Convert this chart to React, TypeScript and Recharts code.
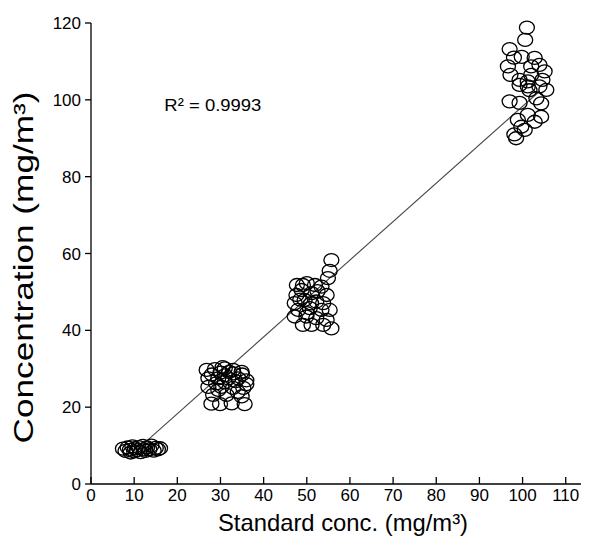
import React from "react";
import { ScatterChart, Scatter, XAxis, YAxis, ReferenceDot } from "recharts";

const FONT = '"Liberation Sans", Arial, sans-serif';

const cluster10 = [
  [7.4, 9.2], [8, 8.6], [8.5, 9.5], [9, 8.9], [9.2, 8.2], [9.6, 9.8], [10, 8.5], [10.2, 9.3],
  [10.6, 8.8], [11, 9.6], [11.5, 8.3], [12, 9.9], [12.2, 9.0], [12.6, 8.6], [13, 9.5], [13.5, 9.0],
  [14, 10.0], [14.5, 8.7], [15, 9.4], [15.5, 9.0], [16, 9.3],
];

const cluster30 = [
  [26.8, 29.7], [28.7, 29.9], [31.0, 30.1], [32.9, 29.7], [34.9, 29.2], [27.2, 27.5], [29.5, 27.5],
  [31.8, 27.5], [34.1, 27.5], [36.0, 27.0], [27.2, 25.3], [30.2, 25.3], [32.9, 25.0], [35.3, 25.0],
  [28.3, 23.2], [31.4, 23.2], [34.9, 22.8], [27.9, 20.9], [29.9, 20.8], [32.6, 21.0], [35.6, 20.8],
  [28, 28.5], [30, 29], [31, 28.3], [33, 28.8], [29, 26.2], [31, 26.5], [33.5, 26.8], [35, 28.5],
  [30.5, 30.4], [32, 29.2], [29.5, 24.5], [34, 24], [36, 26],
];

const cluster50 = [
  [55.7, 58.3], [55.3, 55.5], [54.9, 53.6], [49.1, 51.8], [51.9, 51.8], [53.4, 51.4], [47.6, 49.2],
  [51.1, 49.7], [54.6, 49.2], [47.2, 47.1], [49.5, 47.9], [52.2, 47.5], [53.8, 47.1], [48.0, 45.3],
  [50.7, 45.8], [53.4, 45.3], [55.3, 45.3], [47.2, 43.6], [49.9, 43.6], [52.2, 43.2], [54.6, 42.7],
  [51.1, 41.4], [55.7, 40.5], [49.1, 41.4], [53.8, 41.4], [48.8, 50.5], [47.7, 51.8], [50, 52.3],
  [52.5, 50.2], [48.5, 48], [51, 47], [50, 44.5],
];

const cluster100 = [
  [101.0, 118.8], [100.6, 115.6], [97.0, 113.2], [98.0, 111.0], [96.6, 108.7], [97.2, 106.5],
  [102.8, 110.9], [103.9, 109.1], [102.0, 108.7], [105.1, 107.4], [99.3, 105.2], [101.2, 104.8],
  [104.6, 105.2], [99.3, 103.9], [101.2, 103.5], [103.9, 103.5], [105.5, 102.6], [97.0, 99.6],
  [99.3, 99.2], [103.2, 100.4], [104.3, 99.1], [98.9, 94.8], [101.2, 96.1], [104.3, 95.6],
  [102.8, 94.3], [100.5, 92.2], [99.7, 93.0], [98.5, 90.0], [98.1, 91.0], [101.6, 102.5],
  [102, 106.5], [99.8, 111.2],
];

// linear fit endpoints
const fitX = [13, 104];
const fitSlope = 1.0;
const fitIntercept = -1.7;

const xTicks = [0, 10, 20, 30, 40, 50, 60, 70, 80, 90, 100, 110];
const yTicks = [0, 20, 40, 60, 80, 100, 120];

const points = [...cluster10, ...cluster30, ...cluster50, ...cluster100].map(([x, y]) => ({ x, y }));
const fitLine = fitX.map((x) => ({ x, y: fitSlope * x + fitIntercept }));

function Ring(props: any) {
  return <ellipse cx={props.cx} cy={props.cy} rx={7.5} ry={6.5} fill="none" stroke="#000" strokeWidth={1.3} />;
}

function XTick({ x, y, payload }: any) {
  return (
    <g>
      <line x1={x} x2={x} y1={y} y2={y - 7} stroke="#000" strokeWidth={1.3} />
      <text x={x} y={y + 5} dy="0.71em" textAnchor="middle" fontSize={17} fontFamily={FONT} fill="#000">
        {payload.value}
      </text>
    </g>
  );
}

function XLabel({ viewBox }: any) {
  return (
    <text x={viewBox.x + viewBox.width / 2 + 6} y={viewBox.y + 47} textAnchor="middle" fontSize={24} fontFamily={FONT} fill="#000" textLength={250} lengthAdjust="spacingAndGlyphs">
      Standard conc. (mg/m³)
    </text>
  );
}

function YLabel({ viewBox }: any) {
  const cx = 33;
  const cy = viewBox.y + viewBox.height / 2 + 14;
  return (
    <text x={cx} y={cy} transform={`rotate(-90 ${cx} ${cy})`} textAnchor="middle" fontSize={28} fontFamily={FONT} fill="#000" textLength={352} lengthAdjust="spacingAndGlyphs">
      Concentration (mg/m³)
    </text>
  );
}

function R2Label({ viewBox }: any) {
  return (
    <text x={viewBox.x} y={viewBox.y} fontSize={17} fontFamily={FONT} fill="#000" textLength={97} lengthAdjust="spacingAndGlyphs">
      R² = 0.9993
    </text>
  );
}

export default function App() {
  return (
    <div style={{ margin: -8, background: "#fff", width: 589, height: 546 }}>
      <ScatterChart width={589} height={546} margin={{ top: 23, right: 6, bottom: 0, left: 0 }}>
        <XAxis
          type="number"
          dataKey="x"
          domain={[0, 114]}
          ticks={xTicks}
          height={62}
          tickSize={0}
          tickMargin={0}
          tick={<XTick />}
          axisLine={{ stroke: "#000", strokeWidth: 1.3 }}
          label={<XLabel />}
        />
        <YAxis
          type="number"
          dataKey="y"
          domain={[0, 120]}
          ticks={yTicks}
          width={91}
          tickSize={6}
          tickMargin={4}
          tick={{ fontSize: 17, fontFamily: FONT, fill: "#000" }}
          tickLine={{ stroke: "#000", strokeWidth: 1.3 }}
          axisLine={{ stroke: "#000", strokeWidth: 1.3 }}
          label={<YLabel />}
        />
        <Scatter data={fitLine} line={{ stroke: "#444", strokeWidth: 1.1 }} shape={() => <g />} isAnimationActive={false} />
        <Scatter data={points} shape={<Ring />} isAnimationActive={false} />
        <ReferenceDot x={17} y={97} r={0} fill="none" stroke="none" label={<R2Label />} />
      </ScatterChart>
    </div>
  );
}
